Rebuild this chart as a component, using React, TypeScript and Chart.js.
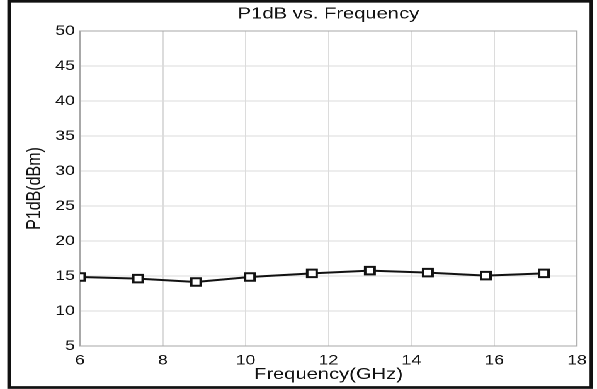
import React, { useEffect, useRef } from 'react';
import { Chart, registerables } from 'chart.js';

Chart.register(...registerables);

// Data
const frequencies = [6, 7.4, 8.8, 10.1, 11.6, 13, 14.4, 15.8, 17.2];
const p1dbValues = [14.86, 14.63, 14.15, 14.86, 15.38, 15.77, 15.48, 15.06, 15.38];
const xTicks = [6, 8, 10, 12, 14, 16, 18];
const yTicks = [5, 10, 15, 20, 25, 30, 35, 40, 45, 50];

const FONT = '"Liberation Sans", Arial, sans-serif';
const INNER_W = 474;
const H = 389;
const SX = 597 / INNER_W;

const framePlugin = {
  id: 'frame',
  beforeDraw(chart: any) {
    const { ctx, width, height } = chart;
    ctx.save();
    ctx.fillStyle = '#ffffff';
    ctx.fillRect(0, 0, width, height);
    ctx.restore();
  },
  beforeDatasetsDraw(chart: any) {
    const { ctx, chartArea: a } = chart;
    ctx.save();
    ctx.strokeStyle = '#a8a8a8';
    ctx.lineWidth = 1;
    ctx.strokeRect(a.left, a.top, a.right - a.left, a.bottom - a.top);
    ctx.restore();
  },
  afterDraw(chart: any) {
    const { ctx } = chart;
    ctx.save();
    ctx.strokeStyle = '#111111';
    ctx.lineWidth = 2.7;
    ctx.strokeRect(7.15, 1.3, 462.3, 386.2);
    ctx.restore();
  },
};

export default function App() {
  const ref = useRef<HTMLCanvasElement | null>(null);

  useEffect(() => {
    if (!ref.current) return;
    const chart = new Chart(ref.current, {
      type: 'line',
      data: {
        datasets: [
          {
            data: frequencies.map((f, i) => ({ x: f, y: p1dbValues[i] })),
            borderColor: '#111111',
            borderWidth: 2,
            pointStyle: 'rect',
            pointRadius: 5.3,
            pointBorderWidth: 2,
            pointBackgroundColor: '#ffffff',
            pointBorderColor: '#111111',
            tension: 0,
          },
        ],
      },
      options: {
        responsive: false,
        animation: false,
        devicePixelRatio: 2,
        layout: { padding: { left: 0, right: 15.9, top: 0, bottom: 0 } },
        plugins: {
          legend: { display: false },
          tooltip: { enabled: false },
          title: {
            display: true,
            text: 'P1dB vs. Frequency',
            fullSize: false,
            color: '#111111',
            font: { family: FONT, size: 16, weight: 'normal' },
            padding: { top: 4.6, bottom: 7.2 },
          },
        },
        scales: {
          x: {
            type: 'linear',
            min: 6,
            max: 18,
            afterBuildTicks: (axis: any) => {
              axis.ticks = xTicks.map((v) => ({ value: v }));
            },
            afterFit: (axis: any) => {
              axis.height = 43;
            },
            grid: { color: '#dcdcdc', lineWidth: 1, drawTicks: false },
            border: { display: false },
            ticks: {
              color: '#111111',
              font: { family: FONT, size: 14 },
              padding: 6,
              maxRotation: 0,
              autoSkip: false,
            },
            title: {
              display: true,
              text: 'Frequency(GHz)',
              color: '#111111',
              font: { family: FONT, size: 16 },
              padding: { top: 0, bottom: 5 },
            },
          },
          y: {
            type: 'linear',
            min: 5,
            max: 50,
            afterBuildTicks: (axis: any) => {
              axis.ticks = yTicks.map((v) => ({ value: v }));
            },
            afterFit: (axis: any) => {
              axis.width = 63.5;
            },
            grid: { color: '#dcdcdc', lineWidth: 1, drawTicks: false },
            border: { display: false },
            ticks: {
              color: '#111111',
              font: { family: FONT, size: 14 },
              padding: 4,
              autoSkip: false,
            },
            title: {
              display: true,
              text: 'P1dB(dBm)',
              color: '#111111',
              font: { family: FONT, size: 16 },
              padding: { top: 18.2, bottom: 0 },
            },
          },
        },
      },
      plugins: [framePlugin],
    } as any);
    return () => chart.destroy();
  }, []);

  return (
    <div
      style={{
        position: 'absolute',
        left: 0,
        top: 0,
        width: INNER_W,
        height: H,
        transform: `scaleX(${SX})`,
        transformOrigin: '0 0',
        background: '#ffffff',
      }}
    >
      <canvas ref={ref} width={INNER_W} height={H} style={{ display: 'block' }} />
    </div>
  );
}
